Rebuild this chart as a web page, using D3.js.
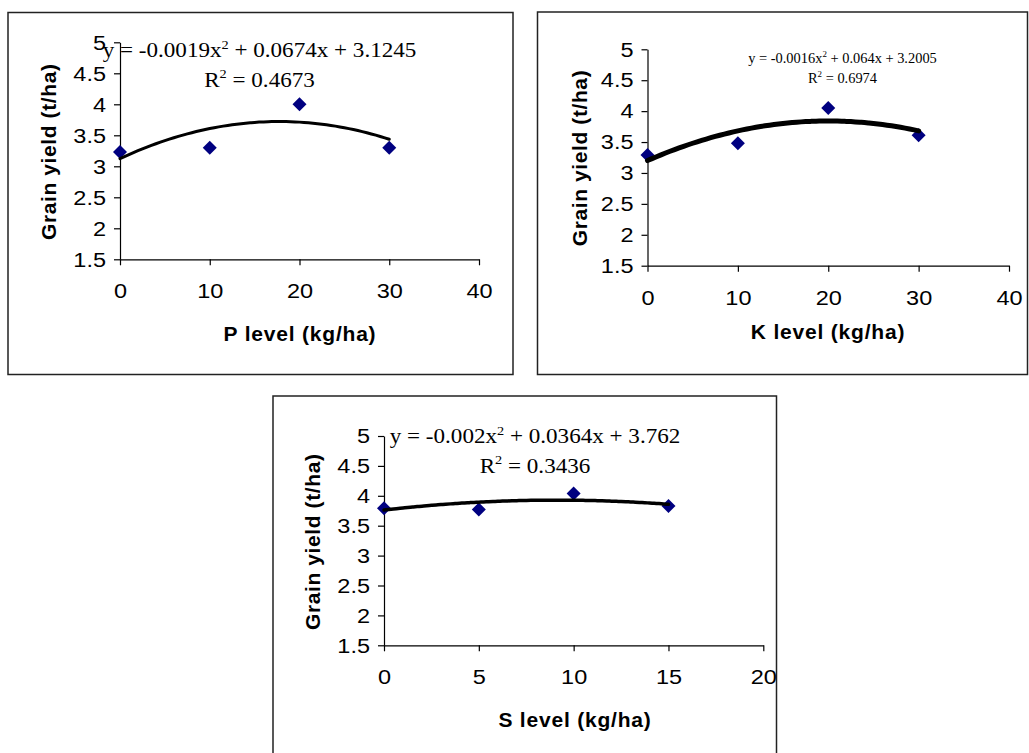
<!DOCTYPE html>
<html>
<head>
<meta charset="utf-8">
<script src="https://cdn.jsdelivr.net/npm/d3@7"></script>
<style>
  html, body { margin: 0; padding: 0; background: #fff; }
  svg { display: block; }
</style>
</head>
<body>
<svg id="chart" width="1029" height="753"></svg>
<script>
// ---- data ----
const pLevels = [0, 10, 20, 30];
const pYield = [3.23, 3.30, 4.00, 3.30];
const pFit = [-0.0019, 0.0674, 3.1245];   // a, b, c of y = ax² + bx + c
const pR2 = "0.4673";

const kLevels = [0, 10, 20, 30];
const kYield = [3.29, 3.48, 4.05, 3.61];
const kFit = [-0.0016, 0.064, 3.2005];
const kR2 = "0.6974";

const sLevels = [0, 5, 10, 15];
const sYield = [3.79, 3.77, 4.04, 3.83];
const sFit = [-0.002, 0.0364, 3.762];
const sR2 = "0.3436";

const yTicks = [1.5, 2, 2.5, 3, 3.5, 4, 4.5, 5];
const pkTicks = [0, 10, 20, 30, 40];
const sTicks = [0, 5, 10, 15, 20];

const yTitle = "Grain yield (t/ha)";

// ---- layout of the three panels ----
const panels = [
  {
    levels: pLevels, yields: pYield, fit: pFit, r2: pR2, xTicks: pkTicks,
    xTitle: "P level (kg/ha)",
    box: [8, 12.5, 505, 362],
    plot: { left: 120, right: 479, top: 42.3, bottom: 259.3 },
    xTitlePos: [300, 340.7], yTitlePos: [55.5, 151.7],
    eq: { cx: 259.5, y1: 57, y2: 86.5, size: 21, sx: 1.1 },
    lineWidth: 3
  },
  {
    levels: kLevels, yields: kYield, fit: kFit, r2: kR2, xTicks: pkTicks,
    xTitle: "K level (kg/ha)",
    box: [537.5, 12, 490, 362.5],
    plot: { left: 647.5, right: 1009, top: 49.3, bottom: 265.7 },
    xTitlePos: [828, 339.3], yTitlePos: [587, 158],
    eq: { cx: 842.5, y1: 63, y2: 83, size: 14, sx: 1.03 },
    lineWidth: 5
  },
  {
    levels: sLevels, yields: sYield, fit: sFit, r2: sR2, xTicks: sTicks,
    xTitle: "S level (kg/ha)",
    box: [273, 396, 503.5, 372],
    plot: { left: 384, right: 763.3, top: 436, bottom: 645.3 },
    xTitlePos: [575, 726.7], yTitlePos: [319.6, 541.7],
    eq: { cx: 535, y1: 443, y2: 472.7, size: 21, sx: 1.1 },
    lineWidth: 3.5
  }
];

const svg = d3.select("#chart");
const sansFont = "'Liberation Sans', Arial, sans-serif";
const serifFont = "'Liberation Serif', 'Times New Roman', serif";
const tickFontSize = 21;
const tickStretch = 1.12;   // tick labels are set slightly wide

function fmtCoef(v) {
  return String(Math.abs(v));
}

panels.forEach(p => {
  const g = svg.append("g");

  // panel frame
  g.append("rect")
    .attr("x", p.box[0]).attr("y", p.box[1])
    .attr("width", p.box[2]).attr("height", p.box[3])
    .attr("fill", "#fff").attr("stroke", "#222").attr("stroke-width", 1.5);

  const x = d3.scaleLinear()
    .domain([p.xTicks[0], p.xTicks[p.xTicks.length - 1]])
    .range([p.plot.left, p.plot.right]);
  const y = d3.scaleLinear()
    .domain([yTicks[0], yTicks[yTicks.length - 1]])
    .range([p.plot.bottom, p.plot.top]);

  // y axis
  const ya = g.append("g")
    .attr("transform", `translate(${p.plot.left},0)`)
    .call(d3.axisLeft(y).tickValues(yTicks).tickFormat(String)
      .tickSize(6).tickSizeOuter(0).tickPadding(8));
  // x axis
  const xa = g.append("g")
    .attr("transform", `translate(0,${p.plot.bottom})`)
    .call(d3.axisBottom(x).tickValues(p.xTicks).tickFormat(String)
      .tickSize(6).tickSizeOuter(0).tickPadding(18));

  [ya, xa].forEach(a => {
    a.attr("font-family", sansFont).attr("font-size", tickFontSize);
    a.selectAll("path, line").attr("stroke", "#000").attr("stroke-width", 1.2);
    a.selectAll("text").attr("fill", "#000");
  });
  // widen tick labels about their anchor
  ya.selectAll("text").attr("x", 0).attr("transform", `translate(-14,0) scale(${tickStretch},1)`);
  xa.selectAll("text").attr("transform", `scale(${tickStretch},1)`);

  // axis titles
  g.append("text")
    .attr("x", p.xTitlePos[0]).attr("y", p.xTitlePos[1])
    .attr("text-anchor", "middle")
    .attr("font-family", sansFont).attr("font-weight", "bold")
    .attr("font-size", 21).attr("letter-spacing", 0.8)
    .text(p.xTitle);
  g.append("text")
    .attr("transform", `translate(${p.yTitlePos[0]},${p.yTitlePos[1]}) rotate(-90)`)
    .attr("text-anchor", "middle")
    .attr("font-family", sansFont).attr("font-weight", "bold")
    .attr("font-size", 21).attr("letter-spacing", 0.6)
    .text(yTitle);

  // observed points (diamonds)
  const diamond = d3.symbol().type(d3.symbolSquare).size(98);
  g.append("g").selectAll("path")
    .data(p.levels.map((lv, i) => [lv, p.yields[i]]))
    .join("path")
    .attr("d", diamond)
    .attr("transform", d => `translate(${x(d[0])},${y(d[1])}) rotate(45)`)
    .attr("fill", "#000080");

  // quadratic trend line over the observed range
  const [a, b, c] = p.fit;
  const xMin = d3.min(p.levels), xMax = d3.max(p.levels);
  const xs = d3.range(0, 61).map(i => xMin + (xMax - xMin) * i / 60);
  g.append("path")
    .datum(xs)
    .attr("fill", "none")
    .attr("stroke", "#000")
    .attr("stroke-width", p.lineWidth)
    .attr("stroke-linecap", "round")
    .attr("d", d3.line()
      .x(v => x(v))
      .y(v => y(a * v * v + b * v + c))
      .curve(d3.curveMonotoneX));

  // regression equation and R²
  const e = p.eq;
  const eqText = g.append("text")
    .attr("transform", `translate(${e.cx},${e.y1}) scale(${e.sx},1)`)
    .attr("text-anchor", "middle")
    .attr("font-family", serifFont).attr("font-size", e.size).attr("fill", "#000");
  eqText.append("tspan").text(`y = ${a < 0 ? "-" : ""}${fmtCoef(a)}x`);
  eqText.append("tspan").attr("font-size", e.size * 0.62).attr("dy", -e.size * 0.4).text("2");
  eqText.append("tspan").attr("dy", e.size * 0.4)
    .text(` ${b < 0 ? "-" : "+"} ${fmtCoef(b)}x ${c < 0 ? "-" : "+"} ${fmtCoef(c)}`);

  const r2Text = g.append("text")
    .attr("transform", `translate(${e.cx},${e.y2}) scale(${e.sx},1)`)
    .attr("text-anchor", "middle")
    .attr("font-family", serifFont).attr("font-size", e.size).attr("fill", "#000");
  r2Text.append("tspan").text("R");
  r2Text.append("tspan").attr("font-size", e.size * 0.62).attr("dy", -e.size * 0.4).text("2");
  r2Text.append("tspan").attr("dy", e.size * 0.4).text(` = ${p.r2}`);
});
</script>
</body>
</html>
